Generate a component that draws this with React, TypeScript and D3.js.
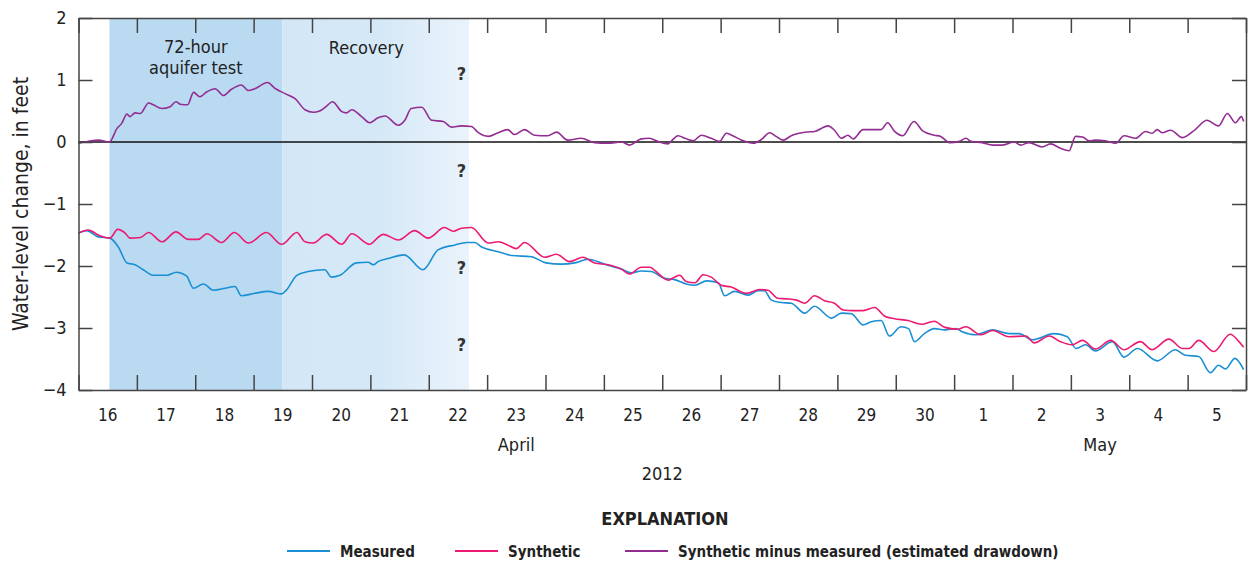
import React, { useEffect, useRef } from 'react';
import * as d3 from 'd3';

// each point: [days since 16 April 2012 00:00, water-level change in feet]
type Pt = [number, number];

const measured: Pt[] = [
  [0, -1.47], [0.14, -1.43], [0.34, -1.53], [0.54, -1.55], [0.68, -1.69], [0.83, -1.95],
  [0.97, -1.98], [1.11, -2.06], [1.28, -2.15], [1.51, -2.15], [1.68, -2.1], [1.85, -2.16],
  [1.97, -2.36], [2.14, -2.29], [2.31, -2.39], [2.51, -2.36], [2.68, -2.33], [2.79, -2.48],
  [3.02, -2.44], [3.25, -2.41], [3.48, -2.45], [3.56, -2.39], [3.74, -2.15], [3.93, -2.09],
  [4.22, -2.06], [4.33, -2.18], [4.48, -2.15], [4.76, -1.95], [4.96, -1.94], [5.05, -1.98],
  [5.13, -1.93], [5.3, -1.88], [5.58, -1.82], [5.9, -2.06], [6.16, -1.74], [6.45, -1.66],
  [6.65, -1.62], [6.79, -1.62], [6.9, -1.69], [7.19, -1.77], [7.42, -1.83], [7.76, -1.85],
  [8.01, -1.95], [8.27, -1.97], [8.5, -1.95], [8.73, -1.89], [9.01, -1.97], [9.3, -2.05],
  [9.47, -2.11], [9.64, -2.08], [9.81, -2.09], [10.04, -2.2], [10.21, -2.22], [10.41, -2.29],
  [10.56, -2.31], [10.76, -2.24], [10.96, -2.27], [11.07, -2.48], [11.24, -2.41], [11.47, -2.47],
  [11.64, -2.4], [11.75, -2.4], [11.87, -2.55], [12.04, -2.59], [12.21, -2.6], [12.44, -2.76],
  [12.61, -2.65], [12.9, -2.84], [13.07, -2.76], [13.24, -2.77], [13.44, -2.95], [13.58, -2.9],
  [13.75, -2.88], [13.89, -3.13], [14.09, -2.98], [14.22, -3.01], [14.32, -3.22], [14.49, -3.09],
  [14.66, -3.01], [14.84, -3.03], [15.03, -3.01], [15.14, -3.06], [15.37, -3.11], [15.66, -3.03],
  [15.94, -3.09], [16.11, -3.09], [16.34, -3.19], [16.71, -3.09], [16.94, -3.14], [17.09, -3.33],
  [17.25, -3.27], [17.42, -3.37], [17.71, -3.22], [17.91, -3.47], [18.14, -3.33], [18.48, -3.53],
  [18.79, -3.35], [18.96, -3.44], [19.19, -3.46], [19.39, -3.72], [19.53, -3.6], [19.65, -3.66],
  [19.81, -3.49], [19.96, -3.67],
];

const synthetic: Pt[] = [
  [0, -1.47], [0.17, -1.42], [0.34, -1.5], [0.54, -1.55], [0.67, -1.41], [0.8, -1.47],
  [0.88, -1.55], [1.06, -1.54], [1.2, -1.46], [1.43, -1.61], [1.67, -1.45], [1.88, -1.57],
  [2.05, -1.57], [2.2, -1.48], [2.45, -1.62], [2.67, -1.46], [2.91, -1.63], [3.22, -1.46],
  [3.48, -1.65], [3.74, -1.46], [3.88, -1.61], [4.02, -1.63], [4.25, -1.49], [4.51, -1.65],
  [4.68, -1.48], [4.99, -1.65], [5.13, -1.54], [5.22, -1.49], [5.48, -1.58], [5.76, -1.43],
  [5.99, -1.55], [6.27, -1.38], [6.42, -1.44], [6.56, -1.39], [6.73, -1.38], [7.02, -1.63],
  [7.19, -1.61], [7.35, -1.66], [7.5, -1.72], [7.64, -1.62], [7.99, -1.86], [8.19, -1.81],
  [8.41, -1.93], [8.64, -1.86], [8.84, -1.95], [9.07, -1.98], [9.3, -2.05], [9.44, -2.13],
  [9.64, -2.02], [9.78, -2.02], [9.98, -2.16], [10.1, -2.23], [10.21, -2.18], [10.3, -2.15],
  [10.41, -2.25], [10.56, -2.27], [10.7, -2.14], [10.84, -2.18], [11.01, -2.31], [11.18, -2.34],
  [11.44, -2.44], [11.67, -2.38], [11.81, -2.39], [11.98, -2.52], [12.13, -2.53], [12.3, -2.55],
  [12.44, -2.6], [12.61, -2.48], [12.78, -2.56], [12.95, -2.6], [13.1, -2.71], [13.27, -2.72],
  [13.44, -2.72], [13.64, -2.67], [13.81, -2.81], [13.98, -2.85], [14.21, -2.88], [14.44, -2.94],
  [14.66, -2.89], [14.84, -2.99], [15.06, -3.02], [15.2, -2.98], [15.46, -3.11], [15.66, -3.04],
  [15.94, -3.14], [16.23, -3.13], [16.37, -3.24], [16.63, -3.13], [16.82, -3.22], [17.02, -3.27],
  [17.2, -3.2], [17.42, -3.34], [17.68, -3.2], [17.91, -3.35], [18.19, -3.22], [18.39, -3.35],
  [18.68, -3.18], [18.91, -3.33], [19.02, -3.33], [19.19, -3.2], [19.45, -3.38], [19.73, -3.1],
  [19.88, -3.22], [19.96, -3.31],
];

const drawdown: Pt[] = [
  [0, -0.02], [0.23, 0.02], [0.34, 0.03], [0.53, 0], [0.66, 0.22], [0.74, 0.3], [0.83, 0.45],
  [0.88, 0.41], [0.97, 0.47], [1.06, 0.46], [1.2, 0.63], [1.28, 0.6], [1.43, 0.54], [1.57, 0.57],
  [1.67, 0.65], [1.74, 0.61], [1.87, 0.6], [1.97, 0.8], [2.08, 0.73], [2.2, 0.81], [2.34, 0.86],
  [2.48, 0.75], [2.62, 0.85], [2.79, 0.92], [2.91, 0.83], [3.02, 0.86], [3.24, 0.96], [3.36, 0.87],
  [3.54, 0.78], [3.71, 0.7], [3.88, 0.52], [4.02, 0.48], [4.13, 0.5], [4.25, 0.58], [4.35, 0.65],
  [4.51, 0.49], [4.59, 0.47], [4.68, 0.52], [4.85, 0.41], [4.99, 0.31], [5.13, 0.39], [5.25, 0.42],
  [5.48, 0.27], [5.59, 0.35], [5.7, 0.54], [5.88, 0.56], [6.05, 0.35], [6.25, 0.33], [6.39, 0.24],
  [6.56, 0.26], [6.73, 0.25], [6.85, 0.15], [7.02, 0.09], [7.19, 0.15], [7.35, 0.2], [7.47, 0.12],
  [7.64, 0.2], [7.81, 0.11], [8.04, 0.1], [8.19, 0.16], [8.38, 0.03], [8.61, 0.06], [8.84, -0.01],
  [9.07, -0.02], [9.3, 0], [9.44, -0.05], [9.64, 0.05], [9.78, 0.06], [9.92, 0.01], [10.1, -0.03],
  [10.16, 0.02], [10.27, 0.1], [10.39, 0.06], [10.53, 0.02], [10.67, 0.11], [10.84, 0.06],
  [10.98, 0.01], [11.1, 0.14], [11.19, 0.11], [11.36, 0.03], [11.56, -0.02], [11.7, 0.04],
  [11.84, 0.15], [11.95, 0.09], [12.07, 0.03], [12.21, 0.1], [12.47, 0.16], [12.61, 0.17],
  [12.84, 0.26], [12.95, 0.19], [13.07, 0.06], [13.18, 0.11], [13.27, 0.05], [13.44, 0.2],
  [13.58, 0.2], [13.75, 0.2], [13.86, 0.31], [13.98, 0.17], [14.12, 0.1], [14.31, 0.33],
  [14.46, 0.18], [14.66, 0.11], [14.77, 0.09], [14.92, -0.01], [15.09, 0.01], [15.2, 0.06],
  [15.29, 0.01], [15.48, -0.01], [15.66, -0.05], [15.83, -0.05], [16.03, 0], [16.14, -0.05],
  [16.28, -0.01], [16.51, -0.08], [16.65, -0.03], [16.82, -0.1], [16.97, -0.14], [17.08, 0.09],
  [17.2, 0.08], [17.31, 0.02], [17.42, 0.03], [17.59, 0.02], [17.77, -0.02], [17.91, 0.1],
  [18.11, 0.06], [18.28, 0.17], [18.39, 0.14], [18.48, 0.2], [18.56, 0.15], [18.71, 0.19],
  [18.91, 0.07], [19.13, 0.2], [19.33, 0.35], [19.53, 0.26], [19.68, 0.46], [19.82, 0.31],
  [19.92, 0.41], [19.96, 0.33],
];

// test periods, in days since 16 April 2012
const testStart = 0.53;
const testEnd = 3.49;
const recoveryEnd = 6.69;

const yTicks = [2, 1, 0, -1, -2, -3, -4];
const questionMarks = [1.11, -0.45, -2.02, -3.26];

const legendItems = [
  { label: 'Measured', color: '#1a8fd4' },
  { label: 'Synthetic', color: '#ec1a72' },
  { label: 'Synthetic minus measured (estimated drawdown)', color: '#922d92' },
];

const FONT = "'Liberation Sans Narrow', 'Arial Narrow', 'DejaVu Sans Condensed', sans-serif";

const App: React.FC = () => {
  const svgRef = useRef<SVGSVGElement | null>(null);

  useEffect(() => {
    if (!svgRef.current) return;
    const width = 1252;
    const height = 562;
    const margin = { top: 18, right: 6, bottom: 172, left: 78.5 };

    const start = new Date(2012, 3, 16);
    const end = new Date(2012, 4, 6);
    const toDate = (d: number) => new Date(start.getTime() + d * 864e5);

    const x = d3
      .scaleTime()
      .domain([start, end])
      .range([margin.left, width - margin.right]);
    const y = d3
      .scaleLinear()
      .domain([-4, 2])
      .range([height - margin.bottom, margin.top]);

    const svg = d3.select(svgRef.current);
    svg.selectAll('*').remove();
    svg.style('font-family', FONT);

    // shaded periods
    const defs = svg.append('defs');
    const grad = defs
      .append('linearGradient')
      .attr('id', 'recov')
      .attr('x1', '0%')
      .attr('x2', '100%');
    grad.append('stop').attr('offset', '0%').attr('stop-color', '#d3e7f6');
    grad.append('stop').attr('offset', '50%').attr('stop-color', '#d4e8f7');
    grad.append('stop').attr('offset', '100%').attr('stop-color', '#eaf3fb');

    svg
      .append('rect')
      .attr('x', x(toDate(testStart)))
      .attr('y', y(2))
      .attr('width', x(toDate(testEnd)) - x(toDate(testStart)))
      .attr('height', y(-4) - y(2))
      .attr('fill', '#badaf2');
    svg
      .append('rect')
      .attr('x', x(toDate(testEnd)))
      .attr('y', y(2))
      .attr('width', x(toDate(recoveryEnd)) - x(toDate(testEnd)))
      .attr('height', y(-4) - y(2))
      .attr('fill', 'url(#recov)');

    // zero line
    svg
      .append('line')
      .attr('x1', x(start))
      .attr('x2', x(end))
      .attr('y1', y(0))
      .attr('y2', y(0))
      .attr('stroke', '#111')
      .attr('stroke-width', 1.3);

    // lines
    const line = d3
      .line<Pt>()
      .x((d) => x(toDate(d[0])))
      .y((d) => y(d[1]))
      .curve(d3.curveMonotoneX);

    const series: [Pt[], string][] = [
      [drawdown, legendItems[2].color],
      [measured, legendItems[0].color],
      [synthetic, legendItems[1].color],
    ];
    series.forEach(([data, color]) => {
      svg
        .append('path')
        .datum(data)
        .attr('d', line)
        .attr('fill', 'none')
        .attr('stroke', color)
        .attr('stroke-width', 1.6)
        .attr('stroke-linejoin', 'round');
    });

    // axes with inward ticks
    const dayTicks = d3.timeDay.range(start, d3.timeDay.offset(end, 1));
    const styleAxis = (g: d3.Selection<SVGGElement, unknown, null, undefined>) => {
      g.select('.domain').attr('stroke', '#444').attr('stroke-width', 1.5);
      g.selectAll('.tick line').attr('stroke', '#444').attr('stroke-width', 1.5);
    };

    svg
      .append('g')
      .attr('transform', `translate(0,${y(-4)})`)
      .call(d3.axisBottom(x).tickValues(dayTicks).tickSizeInner(-15).tickSizeOuter(0).tickFormat(() => ''))
      .call(styleAxis);
    svg
      .append('g')
      .attr('transform', `translate(0,${y(2)})`)
      .call(d3.axisTop(x).tickValues(dayTicks).tickSizeInner(-15).tickSizeOuter(0).tickFormat(() => ''))
      .call(styleAxis);
    const yAxis = svg
      .append('g')
      .attr('transform', `translate(${x(start)},0)`)
      .call(
        d3
          .axisLeft(y)
          .tickValues(yTicks)
          .tickSizeInner(-14)
          .tickSizeOuter(0)
          .tickPadding(12)
          .tickFormat(d3.format('d') as any)
      )
      .call(styleAxis);
    yAxis.selectAll('text').attr('font-size', 18).attr('fill', '#222').attr('font-family', FONT);
    svg
      .append('g')
      .attr('transform', `translate(${x(end)},0)`)
      .call(d3.axisRight(y).tickValues(yTicks).tickSizeInner(-14).tickSizeOuter(0).tickFormat(() => ''))
      .call(styleAxis);

    // day labels at noon
    const days = d3.timeDay.range(start, end);
    svg
      .append('g')
      .selectAll('text')
      .data(days)
      .enter()
      .append('text')
      .attr('x', (d) => x(d3.timeHour.offset(d, 12)))
      .attr('y', 421)
      .attr('text-anchor', 'middle')
      .attr('font-size', 17)
      .attr('fill', '#222')
      .text((d) => d3.timeFormat('%-d')(d));

    const monthLabels: [Date, string][] = [
      [new Date(2012, 3, 23, 12), 'April'],
      [new Date(2012, 4, 3, 12), 'May'],
    ];
    svg
      .append('g')
      .selectAll('text')
      .data(monthLabels)
      .enter()
      .append('text')
      .attr('x', (d) => x(d[0]))
      .attr('y', 451)
      .attr('text-anchor', 'middle')
      .attr('font-size', 18)
      .attr('fill', '#222')
      .text((d) => d[1]);

    svg
      .append('text')
      .attr('x', x(new Date(2012, 3, 26, 0)))
      .attr('y', 480)
      .attr('text-anchor', 'middle')
      .attr('font-size', 18)
      .attr('fill', '#222')
      .text('2012');

    // y title
    svg
      .append('text')
      .attr('transform', `translate(28,${(y(2) + y(-4)) / 2}) rotate(-90)`)
      .attr('text-anchor', 'middle')
      .attr('font-size', 21)
      .attr('fill', '#222')
      .text('Water-level change, in feet');

    // period annotations
    const midTest = x(toDate((testStart + testEnd) / 2));
    svg
      .append('text')
      .attr('x', midTest)
      .attr('y', 53)
      .attr('text-anchor', 'middle')
      .attr('font-size', 18)
      .attr('fill', '#222')
      .text('72-hour');
    svg
      .append('text')
      .attr('x', midTest)
      .attr('y', 74)
      .attr('text-anchor', 'middle')
      .attr('font-size', 18)
      .attr('fill', '#222')
      .text('aquifer test');
    svg
      .append('text')
      .attr('x', x(toDate(4.93)))
      .attr('y', 54)
      .attr('text-anchor', 'middle')
      .attr('font-size', 18)
      .attr('fill', '#222')
      .text('Recovery');

    svg
      .append('g')
      .selectAll('text')
      .data(questionMarks)
      .enter()
      .append('text')
      .attr('x', x(toDate(6.56)))
      .attr('y', (d) => y(d) + 7)
      .attr('text-anchor', 'middle')
      .attr('font-size', 18)
      .attr('font-weight', 'bold')
      .attr('fill', '#333')
      .text('?');

    // legend
    svg
      .append('text')
      .attr('x', 665)
      .attr('y', 525)
      .attr('text-anchor', 'middle')
      .attr('font-size', 18)
      .attr('font-weight', 'bold')
      .attr('fill', '#222')
      .text('EXPLANATION');

    const legendX = [287, 455, 625];
    const lg = svg
      .append('g')
      .selectAll('g')
      .data(legendItems)
      .enter()
      .append('g')
      .attr('transform', (_d, i) => `translate(${legendX[i]},551)`);
    lg.append('line')
      .attr('x1', 0)
      .attr('x2', 43)
      .attr('stroke', (d) => d.color)
      .attr('stroke-width', 1.8);
    lg.append('text')
      .attr('x', 53)
      .attr('y', 6)
      .attr('font-size', 15)
      .attr('font-weight', 'bold')
      .attr('fill', '#222')
      .text((d) => d.label);
  }, []);

  return (
    <svg
      ref={svgRef}
      width={1252}
      height={562}
      style={{ position: 'absolute', left: 0, top: 0, background: '#fff' }}
    />
  );
};

export default App;
